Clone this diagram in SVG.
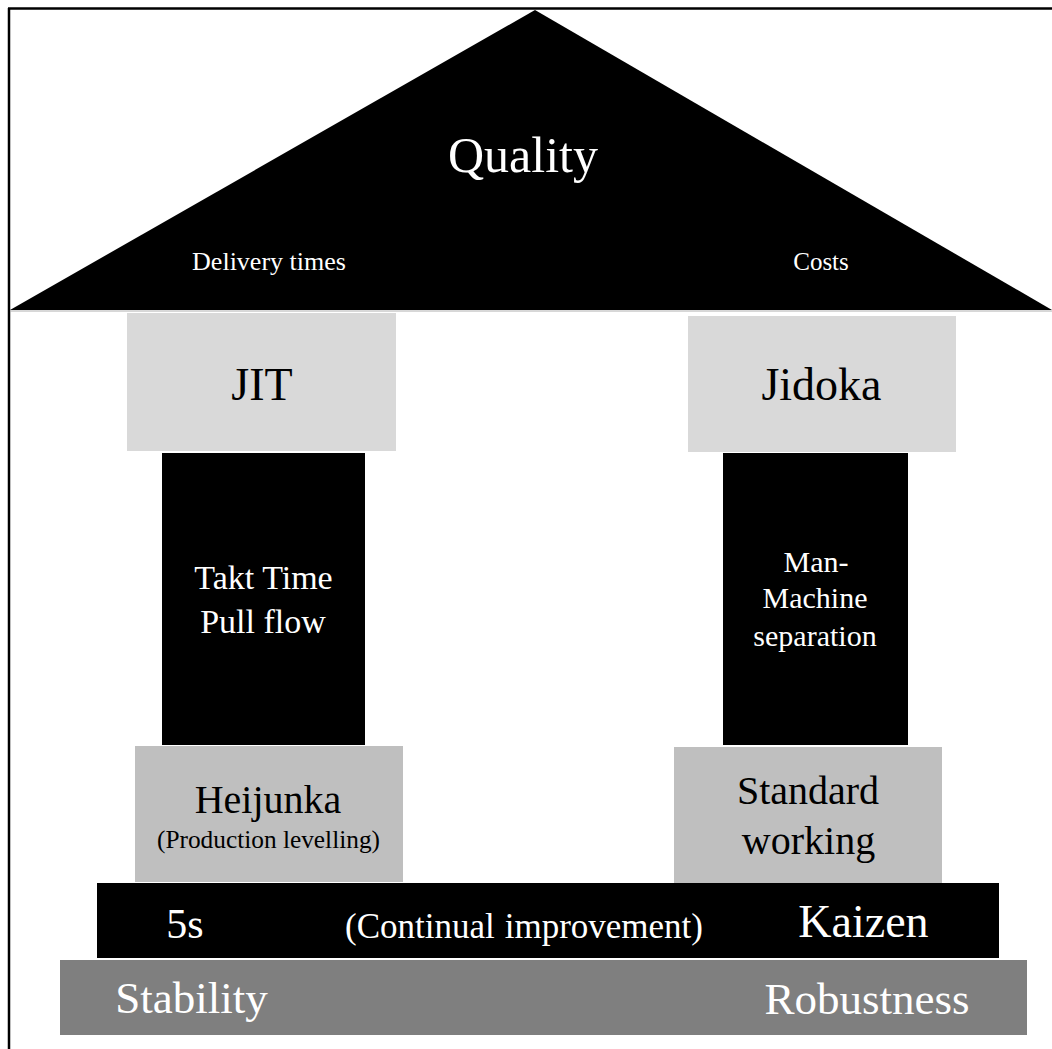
<svg xmlns="http://www.w3.org/2000/svg" width="1052" height="1049" viewBox="0 0 1052 1049">
  <style>
    text { font-family: "Liberation Serif", "Times New Roman", serif; text-anchor: middle; }
    .light { fill: #ffffff; }
    .dark { fill: #000000; }
    .cap { fill: #d9d9d9; }
    .base { fill: #bfbfbf; }
    .pillar { fill: #000000; }
    .ground { fill: #7f7f7f; }
  </style>

  <rect x="0" y="0" width="1052" height="1049" fill="#ffffff"/>

  <!-- frame: top and left edges -->
  <g id="frame" stroke="#000000" stroke-width="2.5" fill="none">
    <line x1="8" y1="8.5" x2="1052" y2="8.5"/>
    <line x1="9" y1="8" x2="9" y2="1049"/>
  </g>

  <!-- roof -->
  <g id="roof">
    <polygon points="10,310 535,10 1052,310" fill="#000000"/>
    <line x1="10" y1="311" x2="1052" y2="311" stroke="#b0b0b0" stroke-width="1"/>
    <text class="light" x="523" y="172" font-size="50">Quality</text>
    <text class="light" x="269" y="270" font-size="26">Delivery times</text>
    <text class="light" x="821" y="270" font-size="25">Costs</text>
  </g>

  <!-- left pillar -->
  <g id="jit">
    <rect class="cap" x="127" y="313" width="269" height="138"/>
    <text class="dark" x="262" y="400" font-size="46">JIT</text>
  </g>
  <g id="takt-time">
    <rect class="pillar" x="162" y="453" width="203" height="292"/>
    <text class="light" x="263.5" y="589" font-size="34">Takt Time</text>
    <text class="light" x="263" y="633" font-size="34">Pull flow</text>
  </g>
  <g id="heijunka">
    <rect class="base" x="135" y="746" width="268" height="136"/>
    <text class="dark" x="268" y="813" font-size="40">Heijunka</text>
    <text class="dark" x="268.5" y="848" font-size="26" textLength="223" lengthAdjust="spacingAndGlyphs">(Production levelling)</text>
  </g>

  <!-- right pillar -->
  <g id="jidoka">
    <rect class="cap" x="688" y="316" width="268" height="136"/>
    <text class="dark" x="821.5" y="400" font-size="46">Jidoka</text>
  </g>
  <g id="man-machine">
    <rect class="pillar" x="723" y="453" width="185" height="292"/>
    <text class="light" x="816" y="572" font-size="30">Man-</text>
    <text class="light" x="815" y="608" font-size="30">Machine</text>
    <text class="light" x="815" y="646" font-size="30">separation</text>
  </g>
  <g id="standard-working">
    <rect class="base" x="674" y="747" width="268" height="136"/>
    <text class="dark" x="808" y="804" font-size="40">Standard</text>
    <text class="dark" x="808.5" y="854" font-size="40">working</text>
  </g>

  <!-- foundation -->
  <g id="kaizen">
    <rect x="97" y="883" width="902" height="75" fill="#000000"/>
    <text class="light" x="185" y="938" font-size="42">5s</text>
    <text class="light" x="345" y="938" font-size="35" style="text-anchor:start">(Continual</text>
    <text class="light" x="703" y="938" font-size="35" style="text-anchor:end">improvement)</text>
    <text class="light" x="863.5" y="937" font-size="46">Kaizen</text>
  </g>
  <g id="stability">
    <rect class="ground" x="60" y="960" width="967" height="75"/>
    <text class="light" x="191.5" y="1013" font-size="45">Stability</text>
    <text class="light" x="867" y="1014" font-size="45">Robustness</text>
  </g>

  <g id="connectors"/>
</svg>
